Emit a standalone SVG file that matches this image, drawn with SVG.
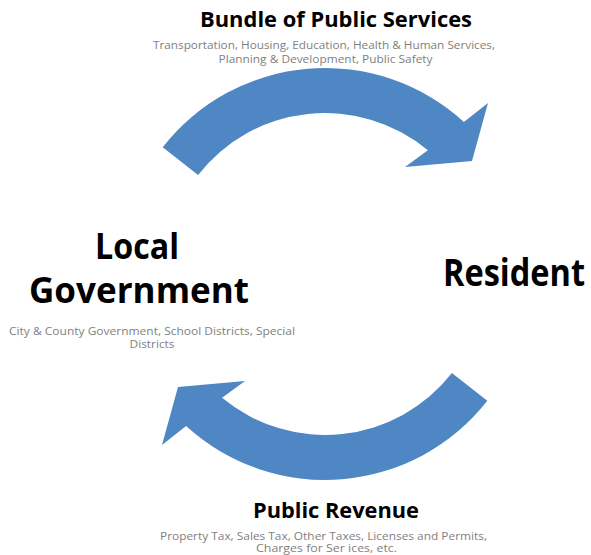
<svg xmlns="http://www.w3.org/2000/svg" width="591" height="555" viewBox="0 0 591 555">
  <defs>
    <style>
      .title { font-family: "Open Sans", Lato, "Liberation Sans", sans-serif; font-weight: 700; fill: #000; text-anchor: middle; }
      .sub { font-family: "Open Sans", Lato, "Liberation Sans", sans-serif; font-weight: 400; fill: #7f7f7f; text-anchor: middle; font-size: 11px; }
      .flow { fill: #4f86c4; }
    </style>
    <!-- circular arrow on a ring centred at (325,274): inner r 161, outer r 206 -->
    <path id="ringArrow" d="M162.7,147.2 A206,206 0 0 1 463.9,121.9 L488,103 L472,161 L405,167 L427.9,150.2 A161,161 0 0 0 198.1,174.9 Z"/>
  </defs>
  <rect width="591" height="555" fill="#fff"/>

  <g id="connectors">
    <use href="#ringArrow" class="flow"/>
    <use href="#ringArrow" class="flow" transform="rotate(180 325 274)"/>
  </g>

  <g id="services">
    <text class="title" x="336" y="27" font-size="21" textLength="272" lengthAdjust="spacingAndGlyphs">Bundle of Public Services</text>
    <text class="sub" x="324" y="49" textLength="342" lengthAdjust="spacingAndGlyphs">Transportation, Housing, Education, Health &amp; Human Services,</text>
    <text class="sub" x="325.5" y="63" textLength="214" lengthAdjust="spacingAndGlyphs">Planning &amp; Development, Public Safety</text>
  </g>

  <g id="government">
    <text class="title" x="137" y="259" font-size="35" textLength="84" lengthAdjust="spacingAndGlyphs">Local</text>
    <text class="title" x="139" y="303" font-size="35" textLength="220" lengthAdjust="spacingAndGlyphs">Government</text>
    <text class="sub" x="152" y="334.5" textLength="286" lengthAdjust="spacingAndGlyphs">City &amp; County Government, School Districts, Special</text>
    <text class="sub" x="152" y="347.5" textLength="45" lengthAdjust="spacingAndGlyphs">Districts</text>
  </g>

  <g id="resident">
    <text class="title" x="514" y="285.5" font-size="37" textLength="142" lengthAdjust="spacingAndGlyphs">Resident</text>
  </g>

  <g id="revenue">
    <text class="title" x="336" y="518" font-size="21" textLength="166" lengthAdjust="spacingAndGlyphs">Public Revenue</text>
    <text class="sub" x="323.5" y="539.5" textLength="327" lengthAdjust="spacingAndGlyphs">Property Tax, Sales Tax, Other Taxes, Licenses and Permits,</text>
    <text class="sub" x="326.5" y="551.5" textLength="141" lengthAdjust="spacingAndGlyphs">Charges for Ser ices, etc.</text>
  </g>
</svg>
